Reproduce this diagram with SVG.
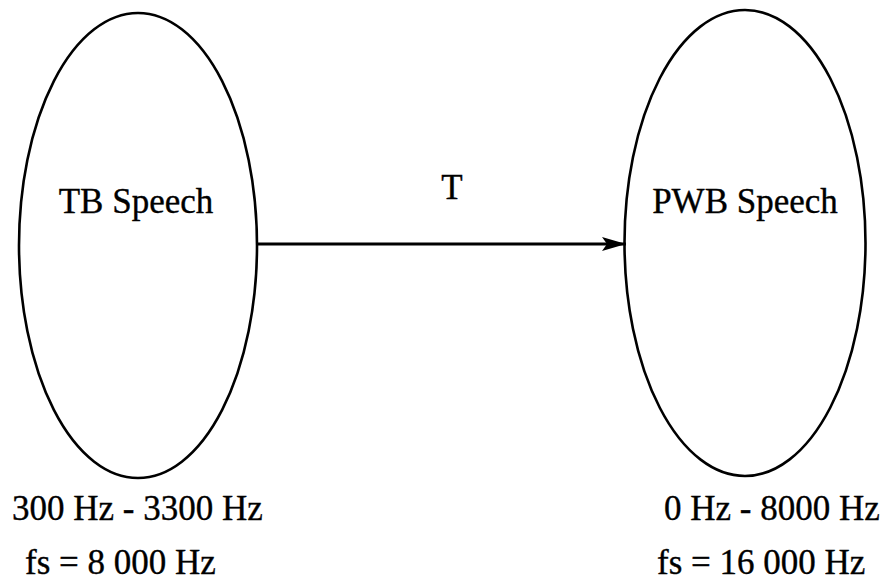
<svg xmlns="http://www.w3.org/2000/svg" width="890" height="583" viewBox="0 0 890 583">
  <style>
    .blob { fill: none; stroke: #000; stroke-width: 2.6; }
    .lbl { font-family: "Liberation Serif", "Times New Roman", serif; font-size: 35px; fill: #000; stroke: #000; stroke-width: 0.35; }
    .mid { text-anchor: middle; }
    .wire { stroke: #000; stroke-width: 3.2; fill: none; }
  </style>
  <defs>
    <marker id="head" markerUnits="userSpaceOnUse" markerWidth="26" markerHeight="16" refX="24" refY="7" orient="auto">
      <path d="M24,7 L0,0 L5,7 L0,14 Z" fill="#000"/>
    </marker>
  </defs>
  <rect width="890" height="583" fill="#fff"/>

  <g id="tb-speech">
    <ellipse class="blob" cx="138" cy="245.5" rx="119" ry="232.5"/>
    <text class="lbl mid" x="136" y="213">TB Speech</text>
    <text class="lbl" x="12" y="520">300 Hz - 3300 Hz</text>
    <text class="lbl" x="25" y="574">fs = 8 000 Hz</text>
  </g>

  <g id="pwb-speech">
    <ellipse class="blob" cx="745" cy="243" rx="120.5" ry="233"/>
    <text class="lbl mid" x="745" y="213">PWB Speech</text>
    <text class="lbl" x="664" y="520">0 Hz - 8000 Hz</text>
    <text class="lbl" x="657" y="574">fs = 16 000 Hz</text>
  </g>

  <g id="connectors">
    <line class="wire" x1="257" y1="244" x2="626" y2="244" marker-end="url(#head)"/>
    <text class="lbl mid" x="452" y="199">T</text>
  </g>
</svg>
